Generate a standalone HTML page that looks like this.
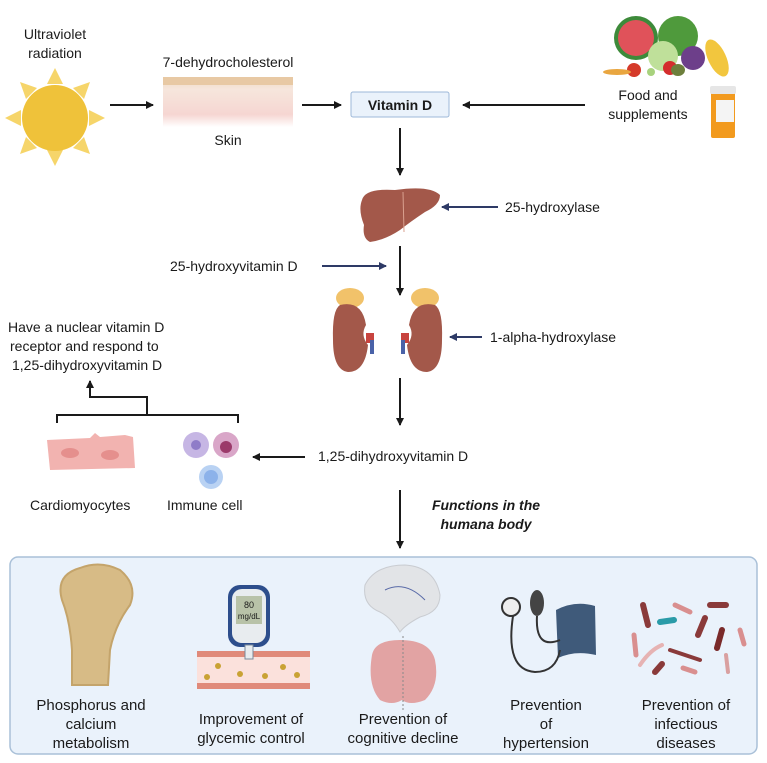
<!DOCTYPE html>
<html><head><meta charset="utf-8"><style>
html,body{margin:0;padding:0;background:#fff}
svg{display:block}
text{font-family:"Liberation Sans",sans-serif;fill:#1a1a1a}
</style></head><body>
<svg width="767" height="763" viewBox="0 0 767 763" xmlns="http://www.w3.org/2000/svg">
<defs>
<marker id="ak" markerWidth="8" markerHeight="8" refX="7" refY="4" orient="auto" markerUnits="userSpaceOnUse"><path d="M0,0 L8,4 L0,8 Z" fill="#1a1a1a"/></marker>
<marker id="an" markerWidth="8" markerHeight="8" refX="7" refY="4" orient="auto" markerUnits="userSpaceOnUse"><path d="M0,0 L8,4 L0,8 Z" fill="#2e3a66"/></marker>
<linearGradient id="skin" x1="0" y1="0" x2="0" y2="1"><stop offset="0" stop-color="#f0d8c0"/><stop offset="0.25" stop-color="#f6e6dc"/><stop offset="0.75" stop-color="#f6d6d2"/><stop offset="1" stop-color="#fff"/></linearGradient>
</defs>

<!-- sun -->
<g fill="#f6d56a">
<polygon points="55,68 47,84 63,84"/><polygon points="55,166 47,150 63,150"/>
<polygon points="5,118 21,110 21,126"/><polygon points="105,118 89,110 89,126"/>
<polygon points="20,82 37,88 26,99"/><polygon points="90,82 73,88 84,99"/>
<polygon points="20,154 37,148 26,137"/><polygon points="90,154 73,148 84,137"/>
</g>
<circle cx="55" cy="118" r="33" fill="#efc23a"/>
<text x="55" y="39" font-size="14" text-anchor="middle">Ultraviolet</text>
<text x="55" y="58" font-size="14" text-anchor="middle">radiation</text>

<line x1="110" y1="105" x2="153" y2="105" stroke="#1a1a1a" stroke-width="2" marker-end="url(#ak)"/>
<rect x="163" y="77" width="130" height="50" fill="url(#skin)"/>
<rect x="163" y="77" width="130" height="8" fill="#e8c9a4"/>
<text x="228" y="67" font-size="14" text-anchor="middle">7-dehydrocholesterol</text>
<text x="228" y="145" font-size="14" text-anchor="middle">Skin</text>
<line x1="302" y1="105" x2="341" y2="105" stroke="#1a1a1a" stroke-width="2" marker-end="url(#ak)"/>

<rect x="351" y="92" width="98" height="25" rx="2" fill="#eaf2fb" stroke="#9db8d8"/>
<text x="400" y="110" font-size="14" font-weight="bold" text-anchor="middle">Vitamin D</text>
<line x1="585" y1="105" x2="463" y2="105" stroke="#1a1a1a" stroke-width="2" marker-end="url(#ak)"/>

<!-- food -->
<circle cx="636" cy="38" r="22" fill="#3d8a3a"/><circle cx="636" cy="38" r="18" fill="#e0525a"/>
<circle cx="678" cy="36" r="20" fill="#4f9a3c"/>
<circle cx="663" cy="56" r="15" fill="#bfe09a"/>
<circle cx="693" cy="58" r="12" fill="#6d3f8a"/>
<ellipse cx="717" cy="58" rx="9" ry="20" fill="#f2c63e" transform="rotate(-25 717 58)"/>
<circle cx="670" cy="68" r="7" fill="#d42d2d"/><circle cx="634" cy="70" r="7" fill="#d53a2a"/>
<ellipse cx="617" cy="72" rx="14" ry="3" fill="#e9a640"/>
<ellipse cx="678" cy="70" rx="7" ry="6" fill="#6d7f3c"/><circle cx="651" cy="72" r="4" fill="#a8d27d"/>
<text x="648" y="100" font-size="14" text-anchor="middle">Food and</text>
<text x="648" y="119" font-size="14" text-anchor="middle">supplements</text>
<rect x="711" y="92" width="24" height="46" rx="2" fill="#f29a1e"/>
<rect x="710" y="86" width="26" height="8" rx="2" fill="#e6e6e6"/>
<rect x="716" y="100" width="18" height="22" fill="#f4f4f4"/>

<line x1="400" y1="128" x2="400" y2="175" stroke="#1a1a1a" stroke-width="2" marker-end="url(#ak)"/>
<!-- liver -->
<path d="M362,200 Q365,188 395,190 Q430,185 440,195 Q440,205 425,212 Q410,222 400,230 Q385,240 370,242 Q362,238 364,225 Q358,210 362,200 Z" fill="#a3584a"/>
<line x1="403" y1="192" x2="404" y2="232" stroke="#d9a08f" stroke-width="1"/>
<line x1="498" y1="207" x2="442" y2="207" stroke="#2e3a66" stroke-width="2" marker-end="url(#an)"/>
<text x="505" y="212" font-size="14">25-hydroxylase</text>

<text x="170" y="271" font-size="14">25-hydroxyvitamin D</text>
<line x1="322" y1="266" x2="386" y2="266" stroke="#2e3a66" stroke-width="2" marker-end="url(#an)"/>
<line x1="400" y1="246" x2="400" y2="295" stroke="#1a1a1a" stroke-width="2" marker-end="url(#ak)"/>

<!-- kidneys -->
<ellipse cx="350" cy="298" rx="14" ry="10" fill="#f1c26a"/>
<ellipse cx="425" cy="298" rx="14" ry="10" fill="#f1c26a"/>
<path d="M340,305 Q362,300 366,325 Q360,335 368,345 Q365,372 348,372 Q333,370 333,340 Q332,310 340,305 Z" fill="#a3584a"/>
<path d="M435,305 Q413,300 409,325 Q415,335 407,345 Q410,372 427,372 Q442,370 442,340 Q443,310 435,305 Z" fill="#a3584a"/>
<rect x="366" y="333" width="8" height="10" fill="#c8443f"/><rect x="401" y="333" width="8" height="10" fill="#c8443f"/>
<rect x="370" y="340" width="4" height="14" fill="#4a62a8"/><rect x="401" y="340" width="4" height="14" fill="#4a62a8"/>
<line x1="482" y1="337" x2="450" y2="337" stroke="#2e3a66" stroke-width="2" marker-end="url(#an)"/>
<text x="490" y="342" font-size="14">1-alpha-hydroxylase</text>
<line x1="400" y1="378" x2="400" y2="425" stroke="#1a1a1a" stroke-width="2" marker-end="url(#ak)"/>

<text x="318" y="461" font-size="14">1,25-dihydroxyvitamin D</text>
<line x1="305" y1="457" x2="253" y2="457" stroke="#1a1a1a" stroke-width="2" marker-end="url(#ak)"/>

<!-- bracket -->
<path d="M57,423 V415 H238 V423" fill="none" stroke="#1a1a1a" stroke-width="2"/>
<path d="M147,415 V397 H90 V381" fill="none" stroke="#1a1a1a" stroke-width="2" marker-end="url(#ak)"/>
<text x="8" y="332" font-size="14">Have a nuclear vitamin D</text>
<text x="10" y="351" font-size="14">receptor and respond to</text>
<text x="12" y="370" font-size="14">1,25-dihydroxyvitamin D</text>

<!-- cardiomyocytes -->
<path d="M47,440 L90,438 L95,433 L100,437 L125,435 L133,437 L135,468 L50,470 Z" fill="#f2b3b0"/>
<ellipse cx="70" cy="453" rx="9" ry="5" fill="#e58f8d"/><ellipse cx="110" cy="455" rx="9" ry="5" fill="#e58f8d"/>
<!-- immune cells -->
<circle cx="196" cy="445" r="13" fill="#c6b6e4"/><circle cx="196" cy="445" r="5" fill="#8f7cc8"/>
<circle cx="226" cy="445" r="13" fill="#d9a6c8"/><circle cx="226" cy="447" r="6" fill="#9b3a6a"/>
<circle cx="211" cy="477" r="12" fill="#b9d2f3"/><circle cx="211" cy="477" r="7" fill="#8cb2ea"/>
<text x="30" y="510" font-size="14">Cardiomyocytes</text>
<text x="167" y="510" font-size="14">Immune cell</text>

<text x="486" y="510" font-size="14" font-weight="bold" font-style="italic" text-anchor="middle">Functions in the</text>
<text x="486" y="529" font-size="14" font-weight="bold" font-style="italic" text-anchor="middle">humana body</text>
<line x1="400" y1="490" x2="400" y2="548" stroke="#1a1a1a" stroke-width="2" marker-end="url(#ak)"/>

<!-- bottom box -->
<rect x="10" y="557" width="747" height="197" rx="8" fill="#eaf2fb" stroke="#a9c0d8" stroke-width="1.5"/>

<path d="M62,600 Q55,575 80,568 Q100,560 120,570 Q138,585 130,605 Q115,625 110,650 L108,685 L72,685 L72,650 Q70,620 62,600 Z" fill="#d7bb86" stroke="#c4a46b" stroke-width="2"/>
<rect x="197" y="651" width="113" height="38" fill="#fbe1dc"/>
<rect x="197" y="651" width="113" height="6" fill="#e08a7a"/><rect x="197" y="683" width="113" height="6" fill="#e08a7a"/>
<g fill="#c9a234"><circle cx="218" cy="666" r="3"/><circle cx="240" cy="674" r="3"/><circle cx="265" cy="676" r="3"/><circle cx="283" cy="667" r="3"/><circle cx="297" cy="675" r="3"/><circle cx="207" cy="677" r="3"/></g>
<rect x="228" y="585" width="42" height="62" rx="12" fill="#2d4e8c"/>
<rect x="232" y="589" width="34" height="54" rx="10" fill="#e8ecef"/>
<rect x="236" y="596" width="26" height="28" fill="#b8c2a8"/>
<text x="249" y="608" font-size="9" text-anchor="middle">80</text>
<text x="249" y="619" font-size="8" text-anchor="middle">mg/dL</text>
<rect x="245" y="645" width="8" height="14" fill="#e8ecef" stroke="#7a8b9c"/>
<path d="M365,585 Q375,565 405,565 Q435,567 440,595 Q440,612 420,617 Q405,625 400,632 Q392,618 380,612 Q362,605 365,585 Z" fill="#e2e4e7" stroke="#c9ccd1"/>
<path d="M385,590 Q405,580 425,600" fill="none" stroke="#5a6ba8" stroke-width="1"/>
<path d="M372,655 Q375,640 400,640 Q430,640 435,660 Q440,685 425,700 Q410,706 402,700 Q392,706 380,700 Q367,685 372,655 Z" fill="#e2a3a3"/>
<line x1="403" y1="636" x2="403" y2="710" stroke="#888" stroke-dasharray="2,2"/>
<circle cx="511" cy="607" r="9" fill="#eee" stroke="#333" stroke-width="2"/>
<ellipse cx="537" cy="603" rx="7" ry="13" fill="#444"/>
<path d="M556,610 Q575,600 595,606 L596,655 Q575,650 558,658 Z" fill="#3f5a7a"/>
<path d="M513,616 Q505,670 535,672 Q556,672 560,650 M537,616 Q535,650 560,640" fill="none" stroke="#333" stroke-width="2"/>
<g stroke-linecap="round">
<line x1="643" y1="605" x2="648" y2="625" stroke="#8a3a3a" stroke-width="6"/>
<line x1="675" y1="605" x2="690" y2="612" stroke="#d98f8f" stroke-width="5"/>
<line x1="710" y1="605" x2="726" y2="605" stroke="#8a3a3a" stroke-width="6"/>
<line x1="660" y1="622" x2="674" y2="620" stroke="#2a9ba8" stroke-width="6"/>
<line x1="705" y1="618" x2="698" y2="635" stroke="#8a3a3a" stroke-width="6"/>
<line x1="722" y1="630" x2="717" y2="648" stroke="#7a2a2a" stroke-width="6"/>
<line x1="740" y1="630" x2="744" y2="644" stroke="#d98f8f" stroke-width="5"/>
<line x1="634" y1="635" x2="636" y2="655" stroke="#d98f8f" stroke-width="5"/>
<path d="M640,665 Q650,650 662,645" fill="none" stroke="#e6b3b3" stroke-width="4"/>
<path d="M670,650 Q685,655 700,660" fill="none" stroke="#8a3a3a" stroke-width="4"/>
<line x1="655" y1="672" x2="662" y2="664" stroke="#8a3a3a" stroke-width="6"/>
<line x1="683" y1="668" x2="695" y2="672" stroke="#d98f8f" stroke-width="5"/>
<line x1="726" y1="655" x2="728" y2="672" stroke="#d9a0a0" stroke-width="4"/>
</g>

<g font-size="15" text-anchor="middle">
<text x="91" y="710">Phosphorus and</text><text x="91" y="729">calcium</text><text x="91" y="748">metabolism</text>
<text x="251" y="724">Improvement of</text><text x="251" y="743">glycemic control</text>
<text x="403" y="724">Prevention of</text><text x="403" y="743">cognitive decline</text>
<text x="546" y="710">Prevention</text><text x="546" y="729">of</text><text x="546" y="748">hypertension</text>
<text x="686" y="710">Prevention of</text><text x="686" y="729">infectious</text><text x="686" y="748">diseases</text>
</g>
</svg>
</body></html>
